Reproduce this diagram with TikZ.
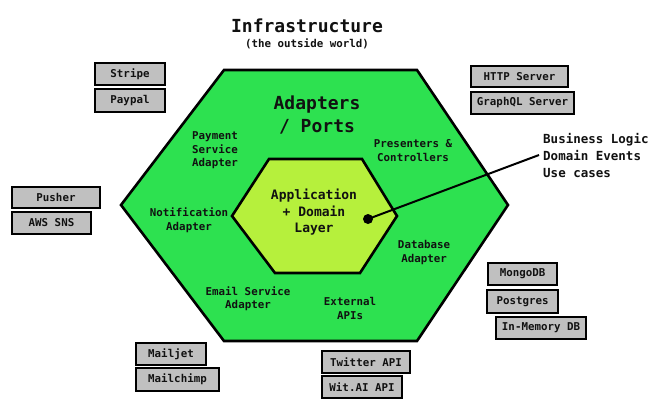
\documentclass[tikz,border=0pt]{standalone}
\usepackage{fontspec}
\setmonofont{DejaVu Sans Mono}
\definecolor{outergreen}{RGB}{45,225,80}
\definecolor{innerlime}{RGB}{182,240,60}
\definecolor{boxgray}{RGB}{192,192,192}
\definecolor{ink}{RGB}{17,17,17}
\tikzset{
  extbox/.style={draw=black, line width=2.6pt, fill=boxgray, text=ink, inner sep=0pt,
    font=\ttfamily\bfseries\fontsize{10.8}{13}\selectfont},
  lbl/.style={text=ink, align=center, inner sep=0pt, font=\ttfamily\bfseries\fontsize{10.8}{13.5}\selectfont},
  hexline/.style={draw=black, line width=2.6pt, line join=miter},
}
\begin{document}
\begin{tikzpicture}[x=1pt,y=-1pt]
\useasboundingbox (0,0) rectangle (660,416);
\fill[white] (0,0) rectangle (660,416);
% outer hexagon
\path[hexline, fill=outergreen] (224,70) -- (417,70) -- (508,205) -- (417,341) -- (224,341) -- (121,205) -- cycle;
% inner hexagon
\path[hexline, fill=innerlime] (269,159) -- (362,159) -- (397,216) -- (360,273) -- (275,273) -- (232,216) -- cycle;

% titles
\node[lbl, font=\ttfamily\bfseries\fontsize{18}{22}\selectfont] (title) at (307,26) {Infrastructure};
\node[lbl] (subtitle) at (307,44) {(the outside world)};
\node[lbl, font=\ttfamily\bfseries\fontsize{18}{23}\selectfont] (adapters) at (317,114.5) {Adapters\\/ Ports};

% adapter labels
\node[lbl] (payment) at (215,150.5) {Payment\\Service\\Adapter};
\node[lbl] (presenters) at (413,150.5) {Presenters \&\\Controllers};
\node[lbl] (notification) at (189,220) {Notification\\Adapter};
\node[lbl] (database) at (424,252.5) {Database\\Adapter};
\node[lbl] (email) at (248,298.5) {Email Service\\Adapter};
\node[lbl] (external) at (350,308.5) {External\\APIs};

% core
\node[lbl, font=\ttfamily\bfseries\fontsize{13}{16.5}\selectfont] (core) at (314,212.5) {Application\\+ Domain\\Layer};
\node[circle, fill=black, inner sep=0pt, minimum size=10pt] (dot) at (368,219) {};
\node[lbl, align=left, anchor=west, inner xsep=4pt, font=\ttfamily\bfseries\fontsize{12.5}{17}\selectfont] (biz) at (539,155) {Business Logic\\Domain Events\\Use cases};
\draw[line width=2pt, black] (dot.center) -- (biz.west);

% external boxes
\node[extbox, minimum width=70pt, minimum height=22pt] (stripe) at (130,74) {Stripe};
\node[extbox, minimum width=70pt, minimum height=23pt] (paypal) at (130,100.5) {Paypal};
\node[extbox, minimum width=97pt, minimum height=21pt] (http) at (519.5,76.5) {HTTP Server};
\node[extbox, minimum width=103pt, minimum height=22pt] (graphql) at (522.5,103) {GraphQL Server};
\node[extbox, minimum width=88pt, minimum height=21pt] (pusher) at (56,197.5) {Pusher};
\node[extbox, minimum width=79pt, minimum height=22pt] (sns) at (51.5,223) {AWS SNS};
\node[extbox, minimum width=69pt, minimum height=22pt] (mongo) at (522.5,274) {MongoDB};
\node[extbox, minimum width=71pt, minimum height=23pt] (postgres) at (522.5,301.5) {Postgres};
\node[extbox, minimum width=90pt, minimum height=22pt] (inmem) at (541,328) {In-Memory DB};
\node[extbox, minimum width=70pt, minimum height=22pt] (mailjet) at (171,354) {Mailjet};
\node[extbox, minimum width=83pt, minimum height=23pt] (mailchimp) at (177.5,379.5) {Mailchimp};
\node[extbox, minimum width=88pt, minimum height=22pt] (twitter) at (366,362) {Twitter API};
\node[extbox, minimum width=80pt, minimum height=22pt] (wit) at (362,387) {Wit.AI API};
\end{tikzpicture}
\end{document}
